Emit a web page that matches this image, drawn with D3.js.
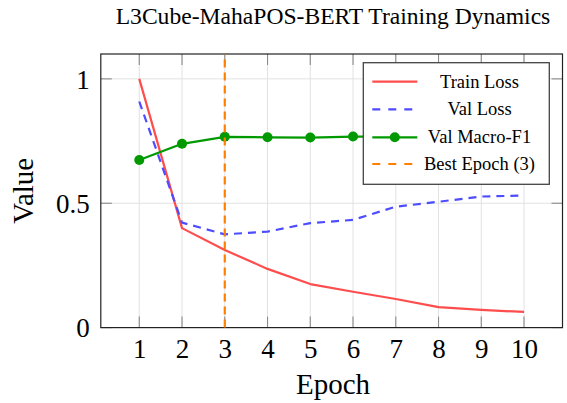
<!DOCTYPE html>
<html>
<head>
<meta charset="utf-8">
<script src="https://cdn.jsdelivr.net/npm/d3@7"></script>
<style>
  html, body { margin: 0; padding: 0; background: #fff; }
  svg { display: block; }
  text { font-family: "Liberation Serif", "Times New Roman", serif; fill: #000; }
</style>
</head>
<body>
<svg id="chart" width="567" height="403"></svg>
<script>
const epochs = [1, 2, 3, 4, 5, 6, 7, 8, 9, 10];
const trainLoss = [1.0, 0.40, 0.312, 0.236, 0.175, 0.144, 0.115, 0.082, 0.071, 0.063];
const valLoss = [0.909, 0.422, 0.375, 0.386, 0.420, 0.433, 0.486, 0.506, 0.527, 0.531];
const valF1 = [0.674, 0.739, 0.767, 0.765, 0.764, 0.768, 0.768, 0.770, 0.769, 0.770];
const bestEpoch = 3;
const yTicks = [0, 0.5, 1];
const yTickLabels = ["0", "0.5", "1"];
const seriesNames = ["Train Loss", "Val Loss", "Val Macro-F1", "Best Epoch (3)"];
const titleText = "L3Cube-MahaPOS-BERT Training Dynamics";
const xLabel = "Epoch";
const yLabel = "Value";

const svg = d3.select("#chart");
const L = 100.8, R = 562.5, T = 54, B = 327.6;

const x = d3.scaleLinear().domain([0.1, 10.9]).range([L, R]);
const y = d3.scaleLinear().domain([0, 1.1]).range([B, T]);

// grid
const grid = svg.append("g");
grid.selectAll(".gx").data(epochs).enter().append("line")
  .attr("x1", d => x(d)).attr("x2", d => x(d)).attr("y1", T).attr("y2", B)
  .attr("stroke", "#e2e2e2").attr("stroke-width", 1);
grid.selectAll(".gy").data(yTicks).enter().append("line")
  .attr("x1", L).attr("x2", R).attr("y1", d => y(d)).attr("y2", d => y(d))
  .attr("stroke", "#e2e2e2").attr("stroke-width", 1);

// ticks (inside, on all four sides)
const tickLen = 11;
const ticks = svg.append("g").attr("stroke", "#8a8a8a").attr("stroke-width", 1.1);
epochs.forEach(d => {
  ticks.append("line").attr("x1", x(d)).attr("x2", x(d)).attr("y1", B).attr("y2", B - tickLen);
  ticks.append("line").attr("x1", x(d)).attr("x2", x(d)).attr("y1", T).attr("y2", T + tickLen);
});
yTicks.forEach(d => {
  ticks.append("line").attr("x1", L).attr("x2", L + tickLen).attr("y1", y(d)).attr("y2", y(d));
  ticks.append("line").attr("x1", R).attr("x2", R - tickLen).attr("y1", y(d)).attr("y2", y(d));
});

// axes via d3 (labels only)
const xAxis = d3.axisBottom(x).tickValues(epochs).tickFormat(d3.format("d")).tickSize(0).tickPadding(0);
const gx = svg.append("g").attr("transform", `translate(0,${B})`).call(xAxis);
gx.select(".domain").remove();
gx.selectAll("text").attr("dy", null).attr("y", 30.5)
  .style("font-size", "27px").style("font-family", '"Liberation Serif", serif').attr("fill", "#000");

const yAxis = d3.axisLeft(y).tickValues(yTicks).tickFormat((d, i) => yTickLabels[i]).tickSize(0).tickPadding(0);
const gy = svg.append("g").attr("transform", `translate(${L},0)`).call(yAxis);
gy.select(".domain").remove();
gy.selectAll("text").attr("x", -11).attr("dy", "0.34em")
  .style("font-size", "27px").style("font-family", '"Liberation Serif", serif').attr("fill", "#000");

// lines
const line = (arr) => d3.line().x((d, i) => x(epochs[i])).y(d => y(d))(arr);
svg.append("path").attr("d", line(trainLoss)).attr("fill", "none")
  .attr("stroke", "#ff4d4d").attr("stroke-width", 2.2).attr("stroke-linejoin", "round");
svg.append("path").attr("d", line(valLoss)).attr("fill", "none")
  .attr("stroke", "#4d4dff").attr("stroke-width", 2.2).attr("stroke-dasharray", "8,6");
svg.append("path").attr("d", line(valF1)).attr("fill", "none")
  .attr("stroke", "#009900").attr("stroke-width", 2.2).attr("stroke-linejoin", "round");
svg.selectAll(".f1pt").data(valF1).enter().append("circle")
  .attr("cx", (d, i) => x(epochs[i])).attr("cy", d => y(d)).attr("r", 5)
  .attr("fill", "#009900");

// frame
svg.append("rect").attr("x", L).attr("y", T).attr("width", R - L).attr("height", B - T)
  .attr("fill", "none").attr("stroke", "#222").attr("stroke-width", 1.2);

// best epoch line
svg.append("line").attr("x1", x(bestEpoch)).attr("x2", x(bestEpoch))
  .attr("y1", y(0)).attr("y2", y(1.1))
  .attr("stroke", "#ff8000").attr("stroke-width", 2.2).attr("stroke-dasharray", "8,5");

// legend
const lg = svg.append("g");
const lx0 = 363.3, lx1 = 549.3, ly0 = 62.7, ly1 = 184.3;
lg.append("rect").attr("x", lx0).attr("y", ly0).attr("width", lx1 - lx0).attr("height", ly1 - ly0)
  .attr("fill", "#fff").attr("stroke", "#444").attr("stroke-width", 1.3);
const rows = [81.7, 109.3, 137.3, 164];
const styles = [
  {c: "#ff4d4d", dash: null, marker: false},
  {c: "#4d4dff", dash: "8,8", marker: false},
  {c: "#009900", dash: null, marker: true},
  {c: "#ff8000", dash: "8,8", marker: false}
];
seriesNames.forEach((name, i) => {
  const yy = rows[i];
  const s = styles[i];
  lg.append("line").attr("x1", 372.3).attr("x2", 417.3).attr("y1", yy).attr("y2", yy)
    .attr("stroke", s.c).attr("stroke-width", 2.2).attr("stroke-dasharray", s.dash);
  if (s.marker) lg.append("circle").attr("cx", 394.8).attr("cy", yy).attr("r", 5).attr("fill", s.c);
  lg.append("text").attr("x", 479.5).attr("y", yy).attr("dy", "0.33em")
    .attr("text-anchor", "middle").style("font-size", "18.5px").text(name);
});

// title and axis labels
svg.append("text").attr("x", 333).attr("y", 24).attr("text-anchor", "middle")
  .style("font-size", "23.6px").text(titleText);
svg.append("text").attr("x", 333).attr("y", 394).attr("text-anchor", "middle")
  .style("font-size", "29px").text(xLabel);
svg.append("text").attr("transform", `translate(33,${(T + B) / 2}) rotate(-90)`)
  .attr("text-anchor", "middle").style("font-size", "29px").text(yLabel);
</script>
</body>
</html>
